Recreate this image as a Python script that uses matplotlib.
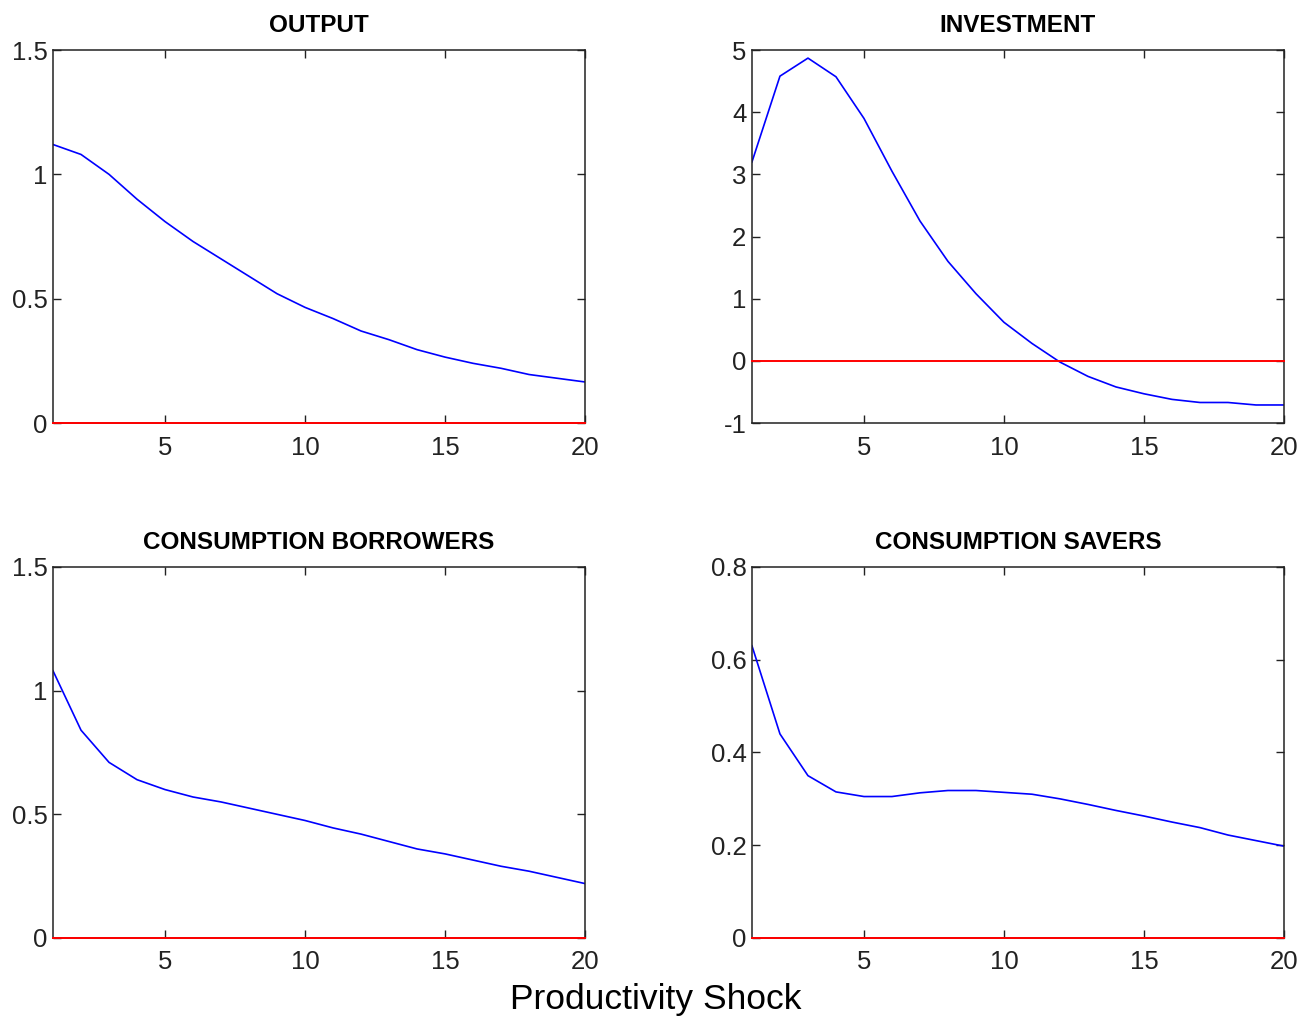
import numpy as np
import matplotlib
matplotlib.use("Agg")
import matplotlib.pyplot as plt
from matplotlib.ticker import FuncFormatter

plt.rcParams['font.family'] = ['Liberation Sans', 'DejaVu Sans']

periods = np.arange(1, 21)

output = [1.12, 1.08, 1.00, 0.90, 0.81, 0.73, 0.66, 0.59, 0.52, 0.465,
          0.42, 0.37, 0.335, 0.295, 0.265, 0.24, 0.22, 0.195, 0.18, 0.165]
investment = [3.2, 4.58, 4.87, 4.57, 3.9, 3.05, 2.25, 1.6, 1.08, 0.62,
              0.28, -0.02, -0.25, -0.42, -0.53, -0.62, -0.67, -0.67, -0.71, -0.71]
cons_borrowers = [1.08, 0.84, 0.71, 0.64, 0.60, 0.57, 0.55, 0.525, 0.50, 0.475,
                  0.445, 0.42, 0.39, 0.36, 0.34, 0.315, 0.29, 0.27, 0.245, 0.22]
cons_savers = [0.63, 0.44, 0.35, 0.315, 0.305, 0.305, 0.313, 0.318, 0.318, 0.314,
               0.31, 0.30, 0.288, 0.275, 0.263, 0.25, 0.238, 0.222, 0.21, 0.198]

titles = ["OUTPUT", "INVESTMENT", "CONSUMPTION BORROWERS", "CONSUMPTION SAVERS"]
series = [output, investment, cons_borrowers, cons_savers]
ylims = [(0, 1.5), (-1, 5), (0, 1.5), (0, 0.8)]
yticks = [[0, 0.5, 1, 1.5], [-1, 0, 1, 2, 3, 4, 5], [0, 0.5, 1, 1.5], [0, 0.2, 0.4, 0.6, 0.8]]
xticks = [5, 10, 15, 20]

# axes boxes in figure fractions (left, bottom, width, height)
boxes = [(0.0407, 0.5857, 0.4083, 0.3653),
         (0.5771, 0.5857, 0.4083, 0.3653),
         (0.0407, 0.0813, 0.4083, 0.3634),
         (0.5771, 0.0813, 0.4083, 0.3634)]

fig = plt.figure(figsize=(13.03, 10.21), dpi=100)

for i in range(4):
    ax = fig.add_axes(boxes[i])
    ax.plot(periods, series[i], color="#0000ff", lw=1.2)
    # zero line drawn over the spine so it stays red at the bottom edge
    ax.axhline(0, color="#ff0000", lw=1.4, zorder=3, clip_on=False)
    ax.set_xlim(1, 20)
    ax.set_ylim(*ylims[i])
    ax.set_xticks(xticks)
    ax.set_yticks(yticks[i])
    ax.yaxis.set_major_formatter(FuncFormatter(lambda v, p: "%g" % v))
    ax.tick_params(direction="in", top=True, right=True, length=6, width=1,
                   labelsize=18.5, colors="#222222")
    ax.tick_params(axis="x", pad=9)
    ax.tick_params(axis="y", pad=4)
    for s in ax.spines.values():
        s.set_linewidth(1.1)
        s.set_color("#222222")
    ax.set_title(titles[i], fontsize=17.5, fontweight="bold", pad=13)

fig.text(0.503, 0.021, "Productivity Shock", ha="center", va="center", fontsize=25.5)

fig.savefig("out.png", dpi=100)
